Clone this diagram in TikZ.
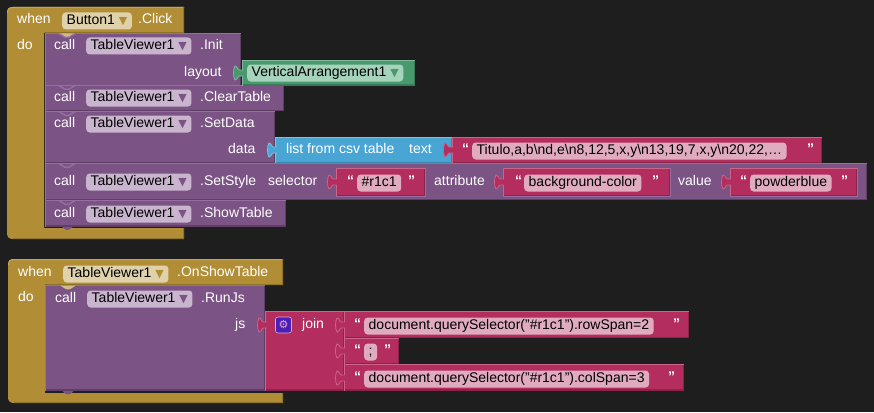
\documentclass[tikz,border=0pt]{standalone}
\usepackage{fontspec}
\setmainfont{Liberation Sans}
\newfontfamily\symfont{DejaVu Sans}
\usepackage{xcolor}
\definecolor{bg}      {HTML}{1E1E1E}
\definecolor{gold}    {HTML}{B18E35}
\definecolor{goldlt}  {HTML}{C0A55D}
\definecolor{golddk}  {HTML}{8E722A}
\definecolor{goldfd}  {HTML}{DFD1AA}
\definecolor{purp}    {HTML}{7C5385}
\definecolor{purplt}  {HTML}{966FA0}
\definecolor{purpdk}  {HTML}{5F3F66}
\definecolor{purpfd}  {HTML}{C9B5CE}
\definecolor{pink}    {HTML}{B32D5E}
\definecolor{pinklt}  {HTML}{CB6489}
\definecolor{pinkdk}  {HTML}{8C2349}
\definecolor{pinkfd}  {HTML}{E1ABBF}
\definecolor{grn}     {HTML}{49996F}
\definecolor{grnlt}   {HTML}{7FB89A}
\definecolor{grndk}   {HTML}{397A58}
\definecolor{grnfd}   {HTML}{A6D3BC}
\definecolor{sky}     {HTML}{49A6D4}
\definecolor{skylt}   {HTML}{7FC1E1}
\definecolor{skydk}   {HTML}{3A85AA}
\definecolor{gearbox} {HTML}{4A1FB8}
\tikzset{
  lbl/.style    = {font=\fontsize{14}{16}\selectfont, text=white, inner sep=0pt,
                   text height=10pt, text depth=3pt, anchor=west},
  quot/.style   = {lbl, font=\fontsize{14}{16}\bfseries\selectfont},
  fld/.style    = {lbl, text=black, rounded corners=3.5pt, inner xsep=4.5pt,
                   inner ysep=2pt},
  goldf/.style  = {fld, fill=goldfd},
  purpf/.style  = {fld, fill=purpfd},
  pinkf/.style  = {fld, fill=pinkfd},
  grnf/.style   = {fld, fill=grnfd},
}
\newcommand{\dd}[1]{\hspace{4pt}{\symfont\fontsize{11}{11}\selectfont\textcolor{#1}{▼}}}
% x1 y1 x2 y2 family
\newcommand{\blk}[5]{
  \fill[#5] (#1,#2) rectangle (#3,#4);
  \draw[#5dk, line width=1.4pt] (#1,#4-.7) -- (#3-.7,#4-.7) -- (#3-.7,#2);
  \draw[#5lt, line width=1.4pt] (#1+.7,#4) -- (#1+.7,#2+.7) -- (#3,#2+.7);
}
% outer block with arm: x1 y1 x2 ybar xin ybot2 ybot
\newcommand{\cblock}[7]{
  \fill[gold] (#3,#2) -- (#1+6,#2) .. controls (#1+2,#2) and (#1,#2+2) .. (#1,#2+6)
    -- (#1,#7-6) .. controls (#1,#7-2) and (#1+2,#7) .. (#1+6,#7) -- (#3,#7)
    -- (#3,#6) -- (#5,#6) -- (#5,#4) -- (#3,#4) -- cycle;
  \draw[goldlt, line width=1pt] (#3,#2+.5) -- (#1+6,#2+.5) .. controls (#1+2,#2+.5) and (#1+.5,#2+2) .. (#1+.5,#2+6);
  \draw[golddk, line width=1pt] (#3-.5,#2) -- (#3-.5,#4-.5) (#5,#4-.5) -- (#3,#4-.5)
    (#1+6,#7-.5) -- (#3-.5,#7-.5) -- (#3-.5,#6);
}
% notch in the top of a statement: y family
\newcommand{\notch}[2]{
  \draw[#2lt, line width=1.4pt] (59,#1+.7) .. controls (62,#1+1) and (63,#1+4.5) .. (67,#1+4.5)
    .. controls (71,#1+4.5) and (72,#1+1) .. (75,#1+.7);
}
% value tab on a left edge: x y family
\newcommand{\tabin}[3]{
  \filldraw[#3, draw=#3lt, line width=.8pt] (#1+1,#2-3) -- (#1-3,#2-3)
    .. controls (#1-4,#2-3) and (#1-5,#2-7) .. (#1-7,#2-7)
    .. controls (#1-9,#2-4) and (#1-9,#2+4) .. (#1-7,#2+7)
    .. controls (#1-5,#2+7) and (#1-4,#2+3) .. (#1-3,#2+3) -- (#1+1,#2+3);
}
\begin{document}
\begin{tikzpicture}[x=1pt, y=-1pt]
  \useasboundingbox (0,0) rectangle (874,412);
  \fill[bg] (0,0) rectangle (874,412);

  % first event
  \cblock{7}{7}{184}{33}{44}{228}{239}
  \fill[purp] (60,226) .. controls (63,226) and (64,230) .. (67,230)
    .. controls (71,230) and (72,226) .. (75,226) -- cycle;
  \blk{45}{33}{241}{86}{purp}
  \blk{45}{85}{284}{111}{purp}
  \blk{45}{111}{275}{163}{purp}
  \blk{45}{163}{867}{200}{purp}
  \blk{45}{200}{286}{226.5}{purp}
  \fill[goldfd!70!gold] (59,33.5) .. controls (62,34) and (63,37.5) .. (67,37.5)
    .. controls (71,37.5) and (72,34) .. (75,33.5) -- cycle;
  \foreach \y in {33,85,111,163,200} {
    \notch{\y}{purp}
  }

  \node[lbl] (when1) at (17,20) {when};
  \node[goldf] (btn) at (62,21) {Button1\dd{gold}};
  \node[lbl] (click) at (138,20) {.Click};
  \node[lbl] (do1) at (17,46) {do};

  \foreach \n/\y/\t in {init/46/.Init, clear/98/.ClearTable, setd/124/.SetData,
      sets/182/.SetStyle, show/214/.ShowTable} {
    \node[lbl] (call\n) at (54,\y) {call};
    \node[purpf] (tv\n) at (86,\y) {TableViewer1\dd{purp}};
    \node[lbl] (m\n) at (200,\y) {\t};
  }

  % Init input
  \blk{242}{60}{415}{85.5}{grn}
  \tabin{242}{73}{grn}
  \node[lbl] (layout) at (184,73) {layout};
  \node[grnf] (arr) at (247,73) {VerticalArrangement1\dd{grn}};

  % SetData input
  \blk{275}{137}{452}{163}{sky}
  \tabin{276}{150}{sky}
  \blk{452}{137}{822}{163}{pink}
  \tabin{452}{150}{pink}
  \node[lbl] (data) at (228,150) {data};
  \node[lbl] (csv) at (286,150) {list from csv table};
  \node[lbl] (txt) at (409,150) {text};
  \node[quot] (q1) at (462,150) {“};
  \node[pinkf] (s1) at (472,151) {Titulo,a,b\textbackslash nd,e\textbackslash n8,12,5,x,y\textbackslash n13,19,7,x,y\textbackslash n20,22,…};
  \node[quot] (q2) at (807,150) {”};

  % SetStyle inputs
  \foreach \a/\b/\c/\q/\f/\r/\t in {336/425/sel/347/357/408/\#r1c1,
      503/670/att/515/524/652/background-color, 730/857/val/740/750/841/powderblue} {
    \draw[purplt, line width=1.4pt] (\a,196.5) -- (\b+.7,196.5) -- (\b+.7,168);
    \blk{\a}{168}{\b}{196}{pink}
    \tabin{\a}{182}{pink}
    \node[quot] (o\c) at (\q,182) {“};
    \node[pinkf] (f\c) at (\f,183) {\t};
    \node[quot] (e\c) at (\r,182) {”};
  }
  \node[lbl] (selector) at (268,182) {selector};
  \node[lbl] (attribute) at (434,182) {attribute};
  \node[lbl] (value) at (678,182) {value};

  % second event
  \cblock{8}{259}{283}{285}{45}{393}{403}
  \fill[purp] (60,390) .. controls (63,390) and (64,394.5) .. (68,394.5)
    .. controls (72,394.5) and (73,390) .. (76,390) -- cycle;
  \blk{45}{285}{265}{390.5}{purp}
  \fill[goldfd!70!gold] (60,285.5) .. controls (63,286) and (64,289.5) .. (68,289.5)
    .. controls (72,289.5) and (73,286) .. (76,285.5) -- cycle;
  \node[lbl] (when2) at (18,273) {when};
  \node[goldf] (tv2) at (63,274) {TableViewer1\dd{gold}};
  \node[lbl] (evt) at (177,273) {.OnShowTable};
  \node[lbl] (do2) at (18,298) {do};
  \node[lbl] (call2) at (55,299) {call};
  \node[purpf] (tv3) at (87,299) {TableViewer1\dd{purp}};
  \node[lbl] (runjs) at (201,299) {.RunJs};
  \node[lbl] (js) at (235,325) {js};

  % join
  \blk{265}{311}{344}{390.5}{pink}
  \tabin{266}{325}{pink}
  \node[lbl] (join) at (302,325) {join};
  \node[fill=gearbox, draw=pinkfd, line width=.6pt, rounded corners=2.5pt, minimum size=16pt,
        inner sep=0pt, text=pinkfd, font=\symfont\fontsize{11}{11}\selectfont] (gear) at (283.5,325) {⚙};
  \foreach \t/\b/\x in {311/338/689, 338/364/399, 364/390.5/684} {
    \blk{344}{\t}{\x}{\b}{pink}
  }
  \foreach \y in {325,351,378} {
    \tabin{344}{\y}{pink}
  }
  \foreach \y/\n in {325/a, 351/b, 378/c}
    \node[quot] (o\n) at (354,\y) {“};
  \node[pinkf] (ja) at (364,326) {document.querySelector("\#r1c1").rowSpan=2};
  \node[quot] (ea) at (673,325) {”};
  \node[pinkf] (jb) at (364,352) {;};
  \node[quot] (eb) at (384,351) {”};
  \node[pinkf] (jc) at (364,379) {document.querySelector("\#r1c1").colSpan=3};
  \node[quot] (ec) at (668,378) {”};
\end{tikzpicture}
\end{document}
